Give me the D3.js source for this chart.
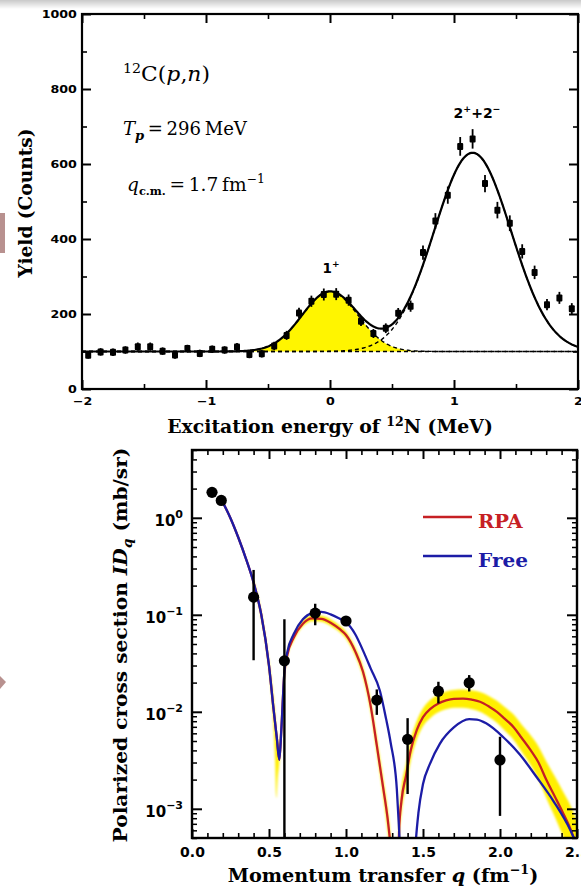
<!DOCTYPE html>
<html>
<head>
<meta charset="utf-8">
<script src="https://cdn.jsdelivr.net/npm/d3@7"></script>
<style>
  body { margin: 0; background: #fff; }
  svg { display: block; }
</style>
</head>
<body>
<svg id="fig" width="581" height="890"></svg>
<script>
// ---------- Upper panel: 12C(p,n) excitation-energy spectrum ----------
const excitation = [-1.95, -1.85, -1.75, -1.65, -1.55, -1.45, -1.35, -1.25, -1.15, -1.05,
                    -0.95, -0.85, -0.75, -0.65, -0.55, -0.45, -0.35, -0.25, -0.15, -0.05,
                     0.05,  0.15,  0.25,  0.35,  0.45,  0.55,  0.65,  0.75,  0.85,  0.95,
                     1.05,  1.15,  1.25,  1.35,  1.45,  1.55,  1.65,  1.75,  1.85,  1.95];
const counts = [90, 99, 98, 104, 113, 113, 101, 91, 108, 95,
                106, 104, 112, 92, 94, 115, 143, 203, 234, 252,
                253, 237, 181, 148, 162, 202, 221, 364, 448, 517,
                647, 667, 548, 477, 442, 367, 311, 225, 243, 214];
const countErr = [9, 10, 10, 10, 11, 11, 10, 10, 10, 10,
                  10, 10, 11, 10, 10, 11, 12, 14, 15, 16,
                  16, 15, 13, 12, 13, 14, 15, 19, 21, 23,
                  25, 26, 23, 22, 21, 19, 18, 15, 16, 15];
// Gaussian fit: flat background plus the 1+ and 2+/2- components
const fitBackground = 100;
const peakCenters = [0.0, 1.15];
const peakSigmas  = [0.225, 0.31];
const peakHeights = [160, 530];
const energyTicks = [-2, -1, 0, 1, 2];
const energyMinor = [-1.5, -0.5, 0.5, 1.5];
const yieldTicks = [0, 200, 400, 600, 800, 1000];
const yieldMinor = [100, 300, 500, 700, 900];

// ---------- Lower panel: polarized cross section ID_q ----------
const qData   = [0.13, 0.19, 0.40, 0.60, 0.80, 1.00, 1.20, 1.40, 1.60, 1.80, 2.00];
const idqData = [1.83, 1.51, 0.152, 0.0335, 0.104, 0.0863, 0.0132, 0.0052, 0.0163, 0.0199, 0.00319];
const idqLow  = [1.76, 1.45, 0.034, 0.0001, 0.078, 0.080, 0.0093, 0.00142, 0.0122, 0.0162, 0.000845];
const idqHigh = [1.90, 1.58, 0.29, 0.090, 0.130, 0.093, 0.0170, 0.0086, 0.0204, 0.0239, 0.00553];

const qFree = [0.20, 0.25, 0.30, 0.35, 0.40, 0.45, 0.50, 0.53, 0.55, 0.567, 0.58, 0.60, 0.62, 0.66,
               0.72, 0.78, 0.84, 0.90, 0.96, 1.00, 1.06, 1.11, 1.16, 1.22, 1.26, 1.29, 1.33, 1.345,
               1.36, 1.44, 1.455, 1.47, 1.50, 1.545, 1.61, 1.70, 1.80, 1.85, 1.91, 2.02, 2.13,
               2.24, 2.35, 2.455, 2.50];
const idqFree = [1.45, 0.99, 0.63, 0.38, 0.215, 0.10, 0.030, 0.0105, 0.0055, 0.0032, 0.0065, 0.026,
                 0.042, 0.063, 0.090, 0.104, 0.107, 0.101, 0.091, 0.084, 0.063, 0.043, 0.028, 0.0165,
                 0.0085, 0.0048, 0.0016, 0.0006, 0.0002, 0.0002, 0.0005, 0.0009, 0.0018, 0.0029,
                 0.0047, 0.0069, 0.0084, 0.0083, 0.0076, 0.0055, 0.0036, 0.0021, 0.00118, 0.00061, 0.00042];

const qRPA = [0.20, 0.25, 0.30, 0.35, 0.40, 0.45, 0.50, 0.53, 0.55, 0.567, 0.58, 0.60, 0.62, 0.66,
              0.72, 0.78, 0.84, 0.90, 0.96, 1.00, 1.06, 1.11, 1.16, 1.20, 1.24, 1.27, 1.29, 1.31,
              1.335, 1.345, 1.36, 1.39, 1.42, 1.46, 1.50, 1.55, 1.60, 1.65, 1.70, 1.76, 1.82, 1.87,
              1.93, 1.98, 2.03, 2.09, 2.14, 2.20, 2.25, 2.30, 2.36, 2.41, 2.45, 2.48, 2.52];
const idqRPA = [1.45, 0.99, 0.63, 0.38, 0.215, 0.10, 0.030, 0.0105, 0.0055, 0.0032, 0.0065, 0.025,
                0.039, 0.058, 0.081, 0.092, 0.091, 0.083, 0.071, 0.062, 0.042, 0.026, 0.0115, 0.0045,
                0.0017, 0.0008, 0.0004, 0.00015, 0.00015, 0.0006, 0.0012, 0.0022, 0.0040, 0.0065,
                0.0088, 0.0108, 0.0122, 0.0131, 0.0136, 0.0137, 0.0133, 0.0127, 0.0113, 0.0100,
                0.0085, 0.0069, 0.0054, 0.0040, 0.0030, 0.0020, 0.0013, 0.00090, 0.00066, 0.00050, 0.00035];

// uncertainty band of the RPA calculation
const qBand = [0.40, 0.45, 0.50, 0.525, 0.540, 0.548, 0.556, 0.567, 0.58, 0.60, 0.62, 0.66, 0.72,
               0.78, 0.84, 0.90, 0.96, 1.00, 1.06, 1.11, 1.16, 1.20, 1.24, 1.27, 1.29, 1.31, 1.335,
               1.345, 1.36, 1.39, 1.42, 1.46, 1.50, 1.55, 1.60, 1.65, 1.70, 1.76, 1.82, 1.87, 1.93,
               1.98, 2.03, 2.09, 2.14, 2.20, 2.25, 2.30, 2.36, 2.41, 2.45, 2.48, 2.52];
const bandLow = [0.20, 0.094, 0.027, 0.010, 0.003, 0.0013, 0.002, 0.003, 0.006, 0.023, 0.037, 0.054,
                 0.076, 0.086, 0.085, 0.077, 0.066, 0.057, 0.038, 0.023, 0.0100, 0.0038, 0.0014,
                 0.0006, 0.0003, 0.0001, 0.0001, 0.00045, 0.0009, 0.0017, 0.0031, 0.0052, 0.0071,
                 0.0087, 0.0099, 0.0106, 0.0110, 0.0110, 0.0106, 0.0100, 0.0088, 0.0077, 0.0064,
                 0.0051, 0.0039, 0.0028, 0.0020, 0.0013, 0.0008, 0.00052, 0.00036, 0.00026, 0.00016];
const bandHigh = [0.23, 0.106, 0.033, 0.016, 0.009, 0.006, 0.005, 0.0045, 0.0075, 0.027, 0.042, 0.062,
                  0.087, 0.099, 0.098, 0.090, 0.077, 0.067, 0.046, 0.029, 0.0132, 0.0054, 0.0021,
                  0.0010, 0.0005, 0.0002, 0.0002, 0.0008, 0.0016, 0.0029, 0.0051, 0.0081, 0.0109,
                  0.0134, 0.0151, 0.0162, 0.0168, 0.0170, 0.0166, 0.0160, 0.0145, 0.0130, 0.0112,
                  0.0093, 0.0074, 0.0057, 0.0044, 0.0031, 0.0021, 0.0015, 0.00115, 0.0009, 0.0006];

const qTicks = [0, 0.5, 1.0, 1.5, 2.0, 2.5];
const qMinor = [0.1, 0.2, 0.3, 0.4, 0.6, 0.7, 0.8, 0.9, 1.1, 1.2, 1.3, 1.4, 1.6, 1.7, 1.8, 1.9, 2.1, 2.2, 2.3, 2.4];
const decadeTicks = [1e-3, 1e-2, 1e-1, 1];
const decadeExponents = ["\u22123", "\u22122", "\u22121", "0"];
const seriesNames = ["RPA", "Free"];
const seriesColors = ["#c62024", "#1c1ca6"];

// ---------- drawing ----------
const svg = d3.select("#fig");
const SERIF = "'DejaVu Serif', 'Liberation Serif', serif";
const SANS = "'DejaVu Sans', 'Liberation Sans', sans-serif";
const defs = svg.append("defs");

// Place a text at (tx, ty), optionally rotated, stretched horizontally to a given width
function placeText(sel, tx, ty, rot, width) {
  const w = sel.node().getBBox().width;
  const s = width && w > 0 ? width / w : 1;
  sel.attr("x", 0).attr("y", 0)
    .attr("transform", `translate(${tx},${ty}) rotate(${rot}) scale(${s},1)`);
}

// page edge shading and side markers of the slide
const grad = defs.append("linearGradient").attr("id", "topShade")
  .attr("x1", 0).attr("y1", 0).attr("x2", 0).attr("y2", 1);
grad.append("stop").attr("offset", 0).attr("stop-color", "#c9c9c9");
grad.append("stop").attr("offset", 1).attr("stop-color", "#ffffff");
svg.append("rect").attr("x", 0).attr("y", 0).attr("width", 581).attr("height", 9).attr("fill", "url(#topShade)");
svg.append("rect").attr("x", 0).attr("y", 213).attr("width", 5).attr("height", 40).attr("fill", "#b8918f");
svg.append("path").attr("d", "M0,676 L6,682 L0,689 Z").attr("fill", "#b8918f");

function styleAxis(g, w) {
  g.select(".domain").remove();
  g.selectAll(".tick line").attr("stroke", "#000").attr("stroke-width", w);
}

// ===== Upper panel =====
const P1 = { left: 82, right: 578, top: 14, bottom: 389 };
const xE = d3.scaleLinear().domain([-2, 2]).range([P1.left, P1.right]);
const yC = d3.scaleLinear().domain([0, 1000]).range([P1.bottom, P1.top]);
const g1 = svg.append("g");

const gauss = (e, i) => peakHeights[i] * Math.exp(-((e - peakCenters[i]) ** 2) / (2 * peakSigmas[i] ** 2));
const eGrid = d3.range(-2, 2.0001, 0.01);

defs.append("clipPath").attr("id", "clipTop").append("rect")
  .attr("x", P1.left).attr("y", P1.top).attr("width", P1.right - P1.left).attr("height", P1.bottom - P1.top);
const plot1 = g1.append("g").attr("clip-path", "url(#clipTop)");

// shaded 1+ component
plot1.append("path").datum(eGrid)
  .attr("d", d3.area().x(e => xE(e)).y0(yC(fitBackground)).y1(e => yC(fitBackground + gauss(e, 0))))
  .attr("fill", "#fff500");

// dashed background and individual components
plot1.append("line").attr("x1", P1.left).attr("x2", P1.right)
  .attr("y1", yC(fitBackground)).attr("y2", yC(fitBackground))
  .attr("stroke", "#000").attr("stroke-width", 1.4).attr("stroke-dasharray", "4,3");
[0, 1].forEach(i => {
  plot1.append("path").datum(eGrid)
    .attr("d", d3.line().x(e => xE(e)).y(e => yC(fitBackground + gauss(e, i))))
    .attr("fill", "none").attr("stroke", "#000").attr("stroke-width", 1.4).attr("stroke-dasharray", "4,3");
});
// total fit
plot1.append("path").datum(eGrid)
  .attr("d", d3.line().x(e => xE(e)).y(e => yC(fitBackground + gauss(e, 0) + gauss(e, 1))))
  .attr("fill", "none").attr("stroke", "#000").attr("stroke-width", 2.2);

// data with error bars
const pts1 = plot1.append("g").selectAll("g").data(excitation).join("g");
pts1.append("line")
  .attr("x1", (d) => xE(d)).attr("x2", (d) => xE(d))
  .attr("y1", (d, i) => yC(counts[i] - countErr[i])).attr("y2", (d, i) => yC(counts[i] + countErr[i]))
  .attr("stroke", "#000").attr("stroke-width", 1.8);
pts1.append("rect")
  .attr("x", d => xE(d) - 3).attr("y", (d, i) => yC(counts[i]) - 3.5)
  .attr("width", 6).attr("height", 7).attr("rx", 1).attr("fill", "#000");

// axes and frame of the upper panel
const tickFontTop = g => g.selectAll("text")
  .attr("font-family", SANS).attr("font-weight", "bold").attr("font-size", 11).attr("fill", "#000");

const axB = g1.append("g").attr("transform", `translate(0,${P1.bottom})`)
  .call(d3.axisBottom(xE).tickValues(energyTicks).tickSize(-9).tickPadding(8).tickFormat(d3.format("d")));
styleAxis(axB, 2); tickFontTop(axB);
axB.selectAll("text").attr("transform", "scale(1.15,1)");
const axBm = g1.append("g").attr("transform", `translate(0,${P1.bottom})`)
  .call(d3.axisBottom(xE).tickValues(energyMinor).tickSize(-5).tickFormat(""));
styleAxis(axBm, 1.6);
const axT = g1.append("g").attr("transform", `translate(0,${P1.top})`)
  .call(d3.axisTop(xE).tickValues(energyTicks).tickSize(-9).tickFormat(""));
styleAxis(axT, 2);
const axTm = g1.append("g").attr("transform", `translate(0,${P1.top})`)
  .call(d3.axisTop(xE).tickValues(energyMinor).tickSize(-5).tickFormat(""));
styleAxis(axTm, 1.6);

const axL = g1.append("g").attr("transform", `translate(${P1.left},0)`)
  .call(d3.axisLeft(yC).tickValues(yieldTicks).tickSize(-9).tickPadding(5).tickFormat(d3.format("d")));
styleAxis(axL, 2); tickFontTop(axL);
axL.selectAll("text").attr("transform", "scale(1.15,1)").attr("x", -4.5);
const axLm = g1.append("g").attr("transform", `translate(${P1.left},0)`)
  .call(d3.axisLeft(yC).tickValues(yieldMinor).tickSize(-5).tickFormat(""));
styleAxis(axLm, 1.6);
const axR = g1.append("g").attr("transform", `translate(${P1.right},0)`)
  .call(d3.axisRight(yC).tickValues(yieldTicks).tickSize(-9).tickFormat(""));
styleAxis(axR, 2);
const axRm = g1.append("g").attr("transform", `translate(${P1.right},0)`)
  .call(d3.axisRight(yC).tickValues(yieldMinor).tickSize(-5).tickFormat(""));
styleAxis(axRm, 1.6);

g1.append("rect").attr("x", P1.left).attr("y", P1.top)
  .attr("width", P1.right - P1.left).attr("height", P1.bottom - P1.top)
  .attr("fill", "none").attr("stroke", "#000").attr("stroke-width", 2.2);

// axis titles
const xt1 = g1.append("text").attr("text-anchor", "middle")
  .attr("font-family", SERIF).attr("font-weight", "bold").attr("font-size", 18);
xt1.append("tspan").text("Excitation energy of ");
xt1.append("tspan").attr("font-size", 12).attr("dy", -7).text("12");
xt1.append("tspan").attr("dy", 7).text("N (MeV)");
placeText(xt1, 330, 433, 0, 326);

const yt1 = g1.append("text").attr("text-anchor", "middle")
  .attr("font-family", SERIF).attr("font-weight", "bold").attr("font-size", 18).text("Yield (Counts)");
placeText(yt1, 32, 203, -90, 150);

// reaction annotations
const ann1 = g1.append("text").attr("font-family", SERIF).attr("font-size", 20);
ann1.append("tspan").attr("font-size", 13).attr("dy", -8).text("12");
ann1.append("tspan").attr("dy", 8).text("C(");
ann1.append("tspan").attr("font-style", "italic").text("p");
ann1.append("tspan").text(",");
ann1.append("tspan").attr("font-style", "italic").text("n");
ann1.append("tspan").text(")");
placeText(ann1, 123, 81, 0, 87);

const ann2 = g1.append("text").attr("font-family", SERIF).attr("font-size", 18);
ann2.append("tspan").attr("font-style", "italic").text("T");
ann2.append("tspan").attr("font-style", "italic").attr("font-weight", "bold").attr("font-size", 13).attr("dy", 5).text("p");
ann2.append("tspan").attr("dy", -5).text("\u2009=\u2009296\u2009MeV");
placeText(ann2, 123, 135, 0, 125);

const ann3 = g1.append("text").attr("font-family", SERIF).attr("font-size", 18);
ann3.append("tspan").attr("font-style", "italic").text("q");
ann3.append("tspan").attr("font-weight", "bold").attr("font-size", 11).attr("dy", 4).text("c.m.");
ann3.append("tspan").attr("dy", -4).text("\u2009=\u20091.7\u2009fm");
ann3.append("tspan").attr("font-size", 12).attr("dy", -8).text("\u22121");
placeText(ann3, 127, 191, 0, 138);

// state labels
const s1 = g1.append("text").attr("text-anchor", "middle")
  .attr("font-family", SANS).attr("font-weight", "bold").attr("font-size", 13.5);
s1.append("tspan").text("1");
s1.append("tspan").attr("font-size", 9).attr("dy", -6).text("+");
placeText(s1, 331, 273, 0, 17);
const s2 = g1.append("text").attr("text-anchor", "middle")
  .attr("font-family", SANS).attr("font-weight", "bold").attr("font-size", 13.5);
s2.append("tspan").text("2");
s2.append("tspan").attr("font-size", 9).attr("dy", -6).text("+");
s2.append("tspan").attr("dy", 6).text("+2");
s2.append("tspan").attr("font-size", 9).attr("dy", -6).text("\u2212");
placeText(s2, 477, 118, 0, 47);

// ===== Lower panel =====
const P2 = { left: 192, right: 577, top: 450, bottom: 838 };
const xQ = d3.scaleLinear().domain([0, 2.5]).range([P2.left, P2.right]);
const yI = d3.scaleLog().domain([5e-4, 5]).range([P2.bottom, P2.top]);
const g2 = svg.append("g");

defs.append("clipPath").attr("id", "clipBottom").append("rect")
  .attr("x", P2.left).attr("y", P2.top).attr("width", P2.right - P2.left).attr("height", P2.bottom - P2.top);
defs.append("filter").attr("id", "soft").attr("x", "-5%").attr("y", "-5%").attr("width", "110%").attr("height", "110%")
  .append("feGaussianBlur").attr("stdDeviation", 1.3);

const plot2 = g2.append("g").attr("clip-path", "url(#clipBottom)");

const bandIdx = d3.range(qBand.length);
plot2.append("path").datum(bandIdx)
  .attr("d", d3.area().x(i => xQ(qBand[i])).y0(i => yI(bandLow[i])).y1(i => yI(bandHigh[i])).curve(d3.curveMonotoneX))
  .attr("fill", "#ffef00").attr("filter", "url(#soft)");

const rpaIdx = d3.range(qRPA.length);
plot2.append("path").datum(rpaIdx)
  .attr("d", d3.line().x(i => xQ(qRPA[i])).y(i => yI(idqRPA[i])).curve(d3.curveMonotoneX))
  .attr("fill", "none").attr("stroke", seriesColors[0]).attr("stroke-width", 2.3);

const freeIdx = d3.range(qFree.length);
plot2.append("path").datum(freeIdx)
  .attr("d", d3.line().x(i => xQ(qFree[i])).y(i => yI(idqFree[i])).curve(d3.curveMonotoneX))
  .attr("fill", "none").attr("stroke", seriesColors[1]).attr("stroke-width", 2.3);

const pts2 = plot2.append("g").selectAll("g").data(qData).join("g");
pts2.append("line")
  .attr("x1", d => xQ(d)).attr("x2", d => xQ(d))
  .attr("y1", (d, i) => yI(idqLow[i])).attr("y2", (d, i) => yI(idqHigh[i]))
  .attr("stroke", "#000").attr("stroke-width", 2.4);
pts2.append("circle")
  .attr("cx", d => xQ(d)).attr("cy", (d, i) => yI(idqData[i])).attr("r", 5.6).attr("fill", "#000");

// axes of the lower panel
const decadeMinor = [];
[1e-4, 1e-3, 1e-2, 1e-1, 1].forEach(dec => {
  [2, 3, 4, 5, 6, 7, 8, 9].forEach(m => {
    const v = dec * m;
    if (v >= 5e-4 && v <= 5) decadeMinor.push(v);
  });
});

const bx = g2.append("g").attr("transform", `translate(0,${P2.bottom})`)
  .call(d3.axisBottom(xQ).tickValues(qTicks).tickSize(-9).tickPadding(9).tickFormat(d3.format(".1f")));
styleAxis(bx, 2);
bx.selectAll("text").attr("font-family", SANS).attr("font-weight", "bold").attr("font-size", 14).attr("fill", "#000");
const bxm = g2.append("g").attr("transform", `translate(0,${P2.bottom})`)
  .call(d3.axisBottom(xQ).tickValues(qMinor).tickSize(-5).tickFormat(""));
styleAxis(bxm, 1.6);
const tx = g2.append("g").attr("transform", `translate(0,${P2.top})`)
  .call(d3.axisTop(xQ).tickValues(qTicks).tickSize(-9).tickFormat(""));
styleAxis(tx, 2);
const txm = g2.append("g").attr("transform", `translate(0,${P2.top})`)
  .call(d3.axisTop(xQ).tickValues(qMinor).tickSize(-5).tickFormat(""));
styleAxis(txm, 1.6);

const ly = g2.append("g").attr("transform", `translate(${P2.left},0)`)
  .call(d3.axisLeft(yI).tickValues(decadeTicks).tickSize(-10).tickFormat(""));
styleAxis(ly, 2);
const lym = g2.append("g").attr("transform", `translate(${P2.left},0)`)
  .call(d3.axisLeft(yI).tickValues(decadeMinor).tickSize(-5).tickFormat(""));
styleAxis(lym, 1.5);
const ry = g2.append("g").attr("transform", `translate(${P2.right},0)`)
  .call(d3.axisRight(yI).tickValues(decadeTicks).tickSize(-10).tickFormat(""));
styleAxis(ry, 2);
const rym = g2.append("g").attr("transform", `translate(${P2.right},0)`)
  .call(d3.axisRight(yI).tickValues(decadeMinor).tickSize(-5).tickFormat(""));
styleAxis(rym, 1.5);

// power-of-ten labels
decadeTicks.forEach((v, i) => {
  const t = g2.append("text").attr("x", P2.left - 9).attr("y", yI(v) + 8).attr("text-anchor", "end")
    .attr("font-family", SANS).attr("font-weight", "bold").attr("font-size", 15);
  t.append("tspan").text("10");
  t.append("tspan").attr("font-size", 11).attr("dy", -8).text(decadeExponents[i]);
});

g2.append("rect").attr("x", P2.left).attr("y", P2.top)
  .attr("width", P2.right - P2.left).attr("height", P2.bottom - P2.top)
  .attr("fill", "none").attr("stroke", "#000").attr("stroke-width", 2.4);

// legend
seriesNames.forEach((name, i) => {
  const y = 517 + i * 39;
  g2.append("line").attr("x1", 423).attr("x2", 472).attr("y1", y).attr("y2", y)
    .attr("stroke", seriesColors[i]).attr("stroke-width", 2.3);
  const t = g2.append("text")
    .attr("font-family", SERIF).attr("font-weight", "bold").attr("font-size", 19)
    .attr("fill", seriesColors[i]).text(name);
  placeText(t, 478, y + 11, 0, i === 0 ? 45 : 50);
});

// axis titles
const xt2 = g2.append("text").attr("text-anchor", "middle")
  .attr("font-family", SERIF).attr("font-weight", "bold").attr("font-size", 18);
xt2.append("tspan").text("Momentum transfer ");
xt2.append("tspan").attr("font-style", "italic").text("q");
xt2.append("tspan").text(" (fm");
xt2.append("tspan").attr("font-size", 12).attr("dy", -8).text("\u22121");
xt2.append("tspan").attr("dy", 8).text(")");
placeText(xt2, 383, 882, 0, 311);

const yt2 = g2.append("text").attr("text-anchor", "middle")
  .attr("font-family", SERIF).attr("font-weight", "bold").attr("font-size", 19);
yt2.append("tspan").text("Polarized cross section ");
yt2.append("tspan").attr("font-style", "italic").text("ID");
yt2.append("tspan").attr("font-style", "italic").attr("font-size", 13).attr("dy", 5).text("q");
yt2.append("tspan").attr("dy", -5).text(" (mb/sr)");
placeText(yt2, 127, 645, -90, 395);
</script>
</body>
</html>
